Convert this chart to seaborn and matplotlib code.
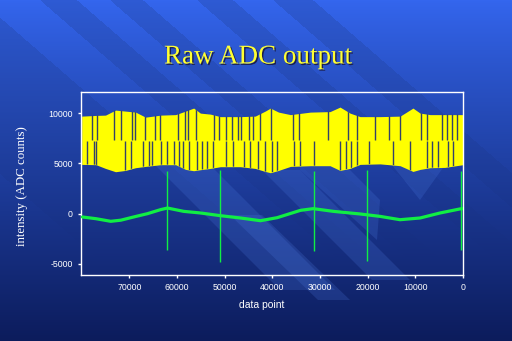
import numpy as np
import pandas as pd
import matplotlib
matplotlib.use("Agg")
import matplotlib.pyplot as plt
import matplotlib.patheffects as pe
from matplotlib.patches import Polygon
import seaborn as sns

# ---------------- data ----------------
env_x = [80000, 77000, 75000, 72900, 70800, 68700, 66600, 63400, 60300, 58200,
         56500, 55100, 53000, 50900, 46700, 43600, 41500, 40400, 38700, 36200,
         32000, 27900, 25800, 23700, 21600, 17400, 13200, 10500, 9000, 6900,
         3800, 0]
env_upper = [9700, 9770, 9800, 10300, 10200, 10100, 9600, 9800, 9850, 10200,
             10500, 10000, 9900, 9650, 9650, 9700, 10200, 10500, 10100, 9850,
             10100, 10150, 10600, 10000, 9650, 9650, 9700, 10500, 10000, 9850,
             9850, 9850]
env_lower = [4900, 4870, 4500, 4170, 4300, 4570, 4700, 4870, 4870, 4400,
             4270, 4370, 4500, 4670, 4670, 4500, 4200, 4070, 4300, 4700,
             4770, 4770, 4300, 4500, 4900, 4950, 4770, 4200, 4400, 4570,
             4600, 4870]

gap_upper_x = [77750, 76700, 73290, 71820, 69520, 68890, 66800, 64700, 63660,
               59890, 58420, 57650, 55910, 52140, 51090, 49690, 48370, 47120,
               46550, 44810, 44040, 42510, 40270, 35600, 34340, 28270, 24080,
               22200, 18430, 15500, 13190, 8790, 7540, 4400, 3350, 2300, 1260]
gap_lower_x = [78800, 77480, 76910, 70990, 69730, 67070, 65960, 65190, 63450,
               62050, 60730, 59680, 58700, 57380, 55760, 54720, 53670, 52350,
               49690, 48160, 45860, 44600, 42930, 41460, 40060, 39010, 35390,
               34130, 31200, 25760, 24500, 23520, 22260, 19680, 14660, 11100,
               7600, 6550, 5240, 3140, 2090]
gap_split = 7300

base_x = [79850, 77000, 73900, 71800, 69100, 66200, 63450, 62000, 58600, 55100,
          50900, 46700, 42500, 39000, 34100, 31400, 27200, 21600, 17400, 13200,
          9000, 4800, 630, 0]
base_y = [-330, -500, -760, -650, -330, 0, 400, 560, 230, 70,
          -200, -430, -700, -400, 330, 500, 230, -30, -270, -600,
          -430, 70, 470, 500]

spike_x = [62000, 50900, 31350, 20040, 480]
spike_top = [4200, 4370, 4200, 4370, 4200]
spike_bottom = [-3580, -4840, -3750, -4740, -3650]

x_ticks = [70000, 60000, 50000, 40000, 30000, 20000, 10000, 0]
y_ticks = [10000, 5000, 0, -5000]

title = "Raw ADC output"
xlabel = "data point"
ylabel = "intensity (ADC counts)"

# ---------------- figure ----------------
sns.set_style("white")
plt.rcParams["font.family"] = ["Liberation Sans", "DejaVu Sans"]

W, H = 512, 341
fig = plt.figure(figsize=(W / 100, H / 100), dpi=100)

# background: vertical gradient with diagonal bands
bg = fig.add_axes([0, 0, 1, 1], zorder=0)
bg.set_axis_off()
yy, xx = np.mgrid[0:H, 0:W]
t = yy / (H - 1)
top = np.array([52, 102, 238]) / 255
bot = np.array([12, 28, 92]) / 255
img = top[None, None, :] * (1 - t[..., None] ** 0.9) + bot[None, None, :] * (t[..., None] ** 0.9)
u = xx - yy * 1.15
dark = np.zeros((H, W))
for a, b in [(40, 77), (110, 143), (197, 233), (273, 313), (-200, -20)]:
    dark += ((u > a) & (u < b)).astype(float)
fade = np.clip(1 - yy / 260, 0, 1)
img = img * (1 - 0.11 * (dark * fade)[..., None])
bg.imshow(img, extent=[0, W, H, 0], aspect="auto", interpolation="bilinear")
bg.set_xlim(0, W)
bg.set_ylim(H, 0)
light = "#4d7ae0"
for poly in [
    [(150, 160), (205, 160), (335, 290), (280, 290)],
    [(262, 170), (300, 170), (410, 280), (372, 280)],
    [(300, 150), (330, 150), (380, 200), (377, 240), (300, 170)],
    [(380, 150), (430, 150), (445, 165), (420, 200)],
    [(230, 215), (262, 215), (350, 300), (318, 300)],
]:
    bg.add_patch(Polygon(poly, closed=True, facecolor=light, edgecolor="none", alpha=0.22))

ax = fig.add_axes([81 / W, 1 - 275 / H, (463 - 81) / W, (275 - 92) / H], zorder=1)
ax.patch.set_alpha(0)

# yellow band
band = ax.fill_between(env_x, env_lower, env_upper, color="#ffff00", lw=0, zorder=2)
clip_path = band.get_paths()[0]
gap_color = "#33426a"
lc1 = ax.vlines(gap_upper_x, gap_split, 12100, color=gap_color, lw=1.0, zorder=3)
lc2 = ax.vlines(gap_lower_x, -6100, gap_split - 100, color=gap_color, lw=1.0, zorder=3)
for lc in (lc1, lc2):
    lc.set_clip_path(clip_path, ax.transData)

# green trace
green = "#11ee44"
df = pd.DataFrame({"x": base_x, "y": base_y})
sns.lineplot(data=df, x="x", y="y", color=green, lw=2.3, ax=ax, zorder=4, sort=False)
ax.vlines(spike_x, spike_bottom, spike_top, color=green, lw=1.0, zorder=4)

ax.set_xlim(80140, 0)
ax.set_ylim(-6100, 12100)
ax.set_xticks(x_ticks)
ax.set_xticklabels([str(v) for v in x_ticks])
ax.set_yticks(y_ticks)
ax.set_yticklabels([str(v) for v in y_ticks])
ax.set_xlabel("")
ax.set_ylabel("")
for s in ax.spines.values():
    s.set_color("white")
    s.set_linewidth(1.0)
ax.tick_params(axis="both", colors="white", labelcolor="white", length=2.5, width=1,
               labelsize=6.3, direction="out", left=True, bottom=True, pad=3.5)

fig.text(258 / W, 1 - 57 / H, title, family=["Liberation Serif", "DejaVu Serif"], fontsize=19.5,
         color="#ffff33", ha="center", va="center",
         path_effects=[pe.withSimplePatchShadow(offset=(1, -1), shadow_rgbFace="#1a1a40", alpha=0.9)])
fig.text(22 / W, 1 - 186 / H, ylabel, family=["Liberation Serif", "DejaVu Serif"], fontsize=9.3,
         color="white", rotation=90, ha="center", va="center")
fig.text(262 / W, 1 - 305 / H, xlabel, fontsize=7.5, color="white", ha="center", va="center")

fig.savefig("out.png", dpi=100)
